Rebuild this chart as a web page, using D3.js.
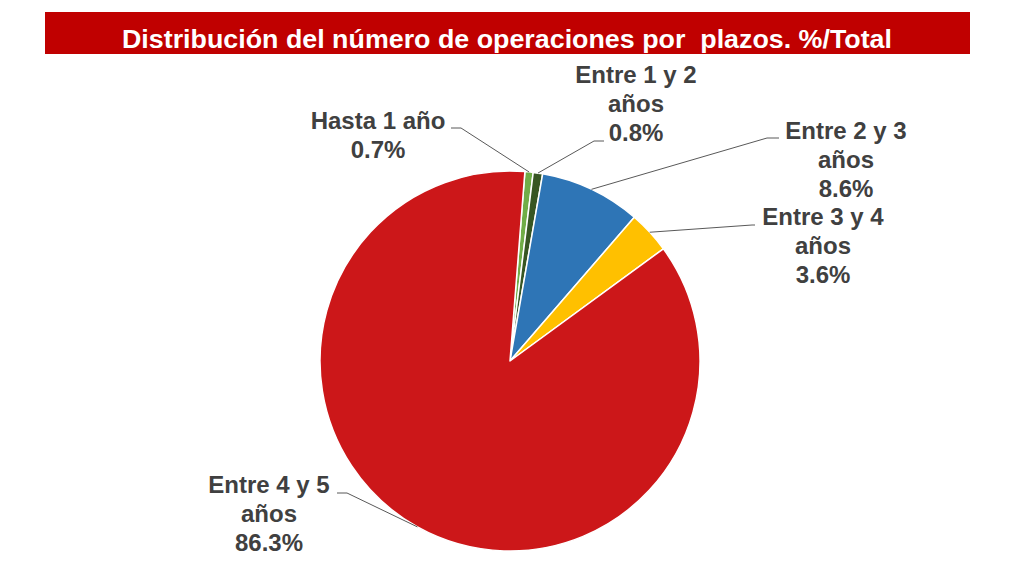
<!DOCTYPE html>
<html>
<head>
<meta charset="utf-8">
<script src="https://cdn.jsdelivr.net/npm/d3@7"></script>
<style>
  body { margin: 0; background: #fff; }
  svg { display: block; font-family: "Liberation Sans", Arial, sans-serif; }
  .title { white-space: pre; }
  .label { font-size: 24px; font-weight: bold; fill: #404040; }
  .leader { fill: none; stroke: #595959; stroke-width: 1; }
</style>
</head>
<body>
<svg width="1024" height="577"></svg>
<script>
const title = "Distribución del número de operaciones por  plazos. %/Total";
const categories = ["Hasta 1 año", "Entre 1 y 2 años", "Entre 2 y 3 años", "Entre 3 y 4 años", "Entre 4 y 5 años"];
const values = [0.7, 0.8, 8.6, 3.6, 86.3];
const colors = ["#70ad47", "#375623", "#2e75b6", "#ffc000", "#cc1719"];

// label text lines + where each label sits (layout only)
const labelLines = [
  ["Hasta 1 año", "0.7%"],
  ["Entre 1 y 2", "años", "0.8%"],
  ["Entre 2 y 3", "años", "8.6%"],
  ["Entre 3 y 4", "años", "3.6%"],
  ["Entre 4 y 5", "años", "86.3%"]
];
const labelPos = [
  { x: 378, y: 129, lx: 451, ly: 128, hx: 461 },
  { x: 636, y: 83, lx: 604, ly: 141, hx: 594 },
  { x: 846, y: 139, lx: 779, ly: 138, hx: 767 },
  { x: 823, y: 225, lx: 755, ly: 225, hx: 752 },
  { x: 269, y: 493, lx: 337, ly: 493, hx: 347 }
];

const svg = d3.select("svg");
const cx = 510, cy = 361, r = 190;
const offset = 4.5 * Math.PI / 180;

// Title bar
svg.append("rect")
  .attr("x", 45).attr("y", 12)
  .attr("width", 925).attr("height", 42)
  .attr("fill", "#c00000");
svg.append("text")
  .attr("class", "title")
  .attr("x", 507).attr("y", 48)
  .attr("text-anchor", "middle")
  .attr("fill", "#fff")
  .attr("font-size", 26)
  .attr("font-weight", "bold")
  .attr("textLength", 770)
  .attr("lengthAdjust", "spacingAndGlyphs")
  .text(title);

const pie = d3.pie().sort(null).value(d => d)
  .startAngle(offset).endAngle(offset + 2 * Math.PI);
const arcs = pie(values);
const arc = d3.arc().innerRadius(0).outerRadius(r);

const g = svg.append("g").attr("transform", "translate(" + cx + "," + cy + ")");

// Slices
g.selectAll("path.slice")
  .data(arcs)
  .enter()
  .append("path")
  .attr("class", "slice")
  .attr("d", arc)
  .attr("fill", (d, i) => colors[i])
  .attr("stroke", "#fff")
  .attr("stroke-width", 1.5)
  .attr("stroke-linejoin", "round");

// Leader lines: from label to the middle of the slice's outer edge
svg.selectAll("polyline.leader")
  .data(arcs)
  .enter()
  .append("polyline")
  .attr("class", "leader")
  .attr("points", function (d, i) {
    const a = (d.startAngle + d.endAngle) / 2;
    const ex = cx + r * Math.sin(a);
    const ey = cy - r * Math.cos(a);
    const p = labelPos[i];
    return [[p.lx, p.ly], [p.hx, p.ly], [ex, ey]].map(q => q.join(",")).join(" ");
  });

// Labels
const labels = svg.selectAll("text.label")
  .data(labelLines)
  .enter()
  .append("text")
  .attr("class", "label")
  .attr("text-anchor", "middle");

labels.selectAll("tspan")
  .data((d, i) => d.map(t => ({ t: t, i: i })))
  .enter()
  .append("tspan")
  .attr("x", d => labelPos[d.i].x)
  .attr("y", (d, j) => labelPos[d.i].y + j * 29)
  .text(d => d.t);
</script>
</body>
</html>
